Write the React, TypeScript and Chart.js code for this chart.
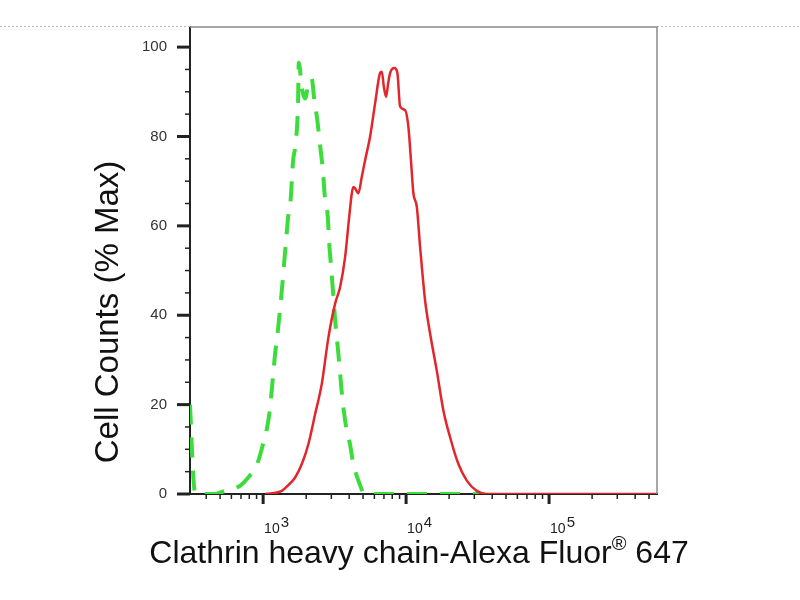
import { useEffect, useRef } from 'react';
import { Chart, registerables } from 'chart.js';

Chart.register(...registerables);

// isotype control (green dashed) - fluorescence intensity / % of max
const isotypeIntensity = [
  308, 314, 322, 335, 460, 520, 604, 700, 773, 908, 984, 1067, 1119, 1170, 1213, 1253, 1310, 1358,
  1402, 1450, 1496, 1545, 1622, 1675, 1757, 1775, 1874, 1966, 2064, 2185, 2283, 2376, 2505, 2630,
  2694, 2833, 2900, 2990, 3103, 3188, 3346, 3455, 3567, 3805, 4058, 4260, 4640, 5168, 32500,
];
const isotypePercent = [
  20, 14, 6, 0, 0, 0.5, 1.1, 2, 3.4, 6.7, 10.4, 14.9, 19.4, 26, 31.4, 35, 41, 46.3,
  51.6, 57, 62, 64.3, 74.7, 77.7, 88.2, 96.5, 90.5, 88.5, 91.5, 93, 88, 84.4, 78, 71.7,
  67, 62, 56, 50.8, 44, 39, 32, 27, 22, 15, 11, 7, 3, 0, 0,
];

// Clathrin heavy chain stained sample (red)
const sampleIntensity = [
  1032, 1352, 1500, 1675, 1880, 2074, 2311, 2574, 2864, 3188, 3455, 3744, 4000, 4173, 4280, 4400,
  4638, 4900, 5168, 5601, 6071, 6579, 6761, 7000, 7246, 7500, 7729, 8284, 8694, 9078, 9840, 10375,
  10800, 11246, 11880, 12530, 13580, 14720, 16390, 18230, 20310, 23220, 26580, 31220, 36670, 568800,
];
const samplePercent = [
  0, 0.7, 2, 3.7, 7, 11.2, 17.9, 24.7, 35.1, 42.6, 46.3, 53, 62, 67.3, 68.7, 68.4,
  67.3, 71, 74.7, 80, 87.4, 94.2, 94.5, 91, 88.9, 92, 94.2, 95.3, 94.2, 86.7, 85.9, 82.2,
  75, 67.3, 64.3, 55.3, 43.3, 35.9, 27.6, 18.7, 12.7, 6.7, 3, 0.7, 0, 0,
];

const decadeTicks = [1e3, 1e4, 1e5];
const yMajorTicks = [0, 20, 40, 60, 80, 100];
const xTitleMain = 'Clathrin heavy chain-Alexa Fluor';
const xTitleMark = '®';
const xTitleEnd = ' 647';
const yTitle = 'Cell Counts (% Max)';

const X_MIN = 308;
const X_MAX = 568800;
const Y_MAX = 104.5;
const FONT = '"Liberation Sans", Arial, sans-serif';
const NARROW = '"Liberation Sans Narrow", "Liberation Sans", Arial, sans-serif';

// tick marks, superscript labels, titles and the frame
const decorPlugin = {
  id: 'flowDecor',
  afterDraw(chart: any) {
    const { ctx, chartArea } = chart;
    const { left, right, top, bottom } = chartArea;
    const xs = chart.scales.x;
    const ys = chart.scales.y;
    ctx.save();

    // dotted separator on both sides of the frame
    ctx.strokeStyle = '#b8b8b8';
    ctx.lineWidth = 1;
    ctx.setLineDash([2, 2]);
    ctx.beginPath();
    ctx.moveTo(0, top - 0.5);
    ctx.lineTo(left, top - 0.5);
    ctx.moveTo(right, top - 0.5);
    ctx.lineTo(chart.width, top - 0.5);
    ctx.stroke();
    ctx.setLineDash([]);

    // top + right frame
    ctx.strokeStyle = '#8a8a8a';
    ctx.lineWidth = 1.5;
    ctx.beginPath();
    ctx.moveTo(left, top);
    ctx.lineTo(right, top);
    ctx.lineTo(right, bottom);
    ctx.stroke();

    // y tick marks
    ctx.strokeStyle = '#222';
    ys.ticks.forEach((t: any) => {
      const y = ys.getPixelForValue(t.value);
      const major = yMajorTicks.includes(t.value);
      ctx.lineWidth = major ? 3 : 1.5;
      ctx.beginPath();
      ctx.moveTo(left - (major ? 13 : 5), y);
      ctx.lineTo(left, y);
      ctx.stroke();
    });

    // x tick marks
    xs.ticks.forEach((t: any) => {
      const x = xs.getPixelForValue(t.value);
      const major = decadeTicks.includes(t.value);
      ctx.lineWidth = major ? 3 : 1.5;
      ctx.beginPath();
      ctx.moveTo(x, bottom);
      ctx.lineTo(x, bottom + (major ? 10 : 5));
      ctx.stroke();
    });

    // x decade labels: 10 with superscript exponent
    ctx.fillStyle = '#222';
    ctx.textBaseline = 'alphabetic';
    ctx.textAlign = 'left';
    decadeTicks.forEach((d) => {
      const x = xs.getPixelForValue(d);
      ctx.font = `14px ${NARROW}`;
      ctx.fillText('10', x + 1, 533);
      const w = ctx.measureText('10').width;
      ctx.font = `15px ${NARROW}`;
      ctx.fillText(String(Math.round(Math.log10(d))), x + 2 + w, 527);
    });

    // x title with registered mark
    ctx.fillStyle = '#111';
    ctx.font = `32px ${FONT}`;
    const w1 = ctx.measureText(xTitleMain).width;
    const w3 = ctx.measureText(xTitleEnd).width;
    ctx.font = `20px ${FONT}`;
    const w2 = ctx.measureText(xTitleMark).width;
    let tx = 419 - (w1 + w2 + w3) / 2;
    ctx.font = `32px ${FONT}`;
    ctx.fillText(xTitleMain, tx, 563);
    tx += w1;
    ctx.font = `20px ${FONT}`;
    ctx.fillText(xTitleMark, tx, 550);
    tx += w2;
    ctx.font = `32px ${FONT}`;
    ctx.fillText(xTitleEnd, tx, 563);

    // y title
    ctx.font = `33px ${FONT}`;
    ctx.translate(118, 312);
    ctx.rotate(-Math.PI / 2);
    ctx.textAlign = 'center';
    ctx.fillText(yTitle, 0, 0);
    ctx.restore();
  },
};

const App = () => {
  const chartRef = useRef<HTMLCanvasElement>(null);
  const chartInstance = useRef<Chart | null>(null);

  useEffect(() => {
    if (!chartRef.current) return;
    if (chartInstance.current) chartInstance.current.destroy();
    const ctx = chartRef.current.getContext('2d');
    if (!ctx) return;

    chartInstance.current = new Chart(ctx, {
      type: 'line',
      data: {
        datasets: [
          {
            label: 'Clathrin heavy chain',
            data: sampleIntensity.map((x, i) => ({ x, y: samplePercent[i] })),
            borderColor: '#e2262c',
            borderWidth: 2.5,
            pointRadius: 0,
            cubicInterpolationMode: 'monotone',
            fill: false,
          },
          {
            label: 'Isotype control',
            data: isotypeIntensity.map((x, i) => ({ x, y: isotypePercent[i] })),
            borderColor: '#3ddc3d',
            borderWidth: 4,
            borderDash: [20, 13],
            pointRadius: 0,
            cubicInterpolationMode: 'monotone',
            fill: false,
          },
        ],
      },
      options: {
        responsive: false,
        animation: false,
        layout: { padding: { top: 27, right: 143, left: 0, bottom: 0 } },
        plugins: {
          legend: { display: false },
          tooltip: { enabled: false },
        },
        scales: {
          x: {
            type: 'logarithmic',
            min: X_MIN,
            max: X_MAX,
            afterBuildTicks: (scale: any) => {
              const ticks: { value: number }[] = [];
              [100, 1000, 10000, 100000].forEach((d) => {
                for (let m = 1; m <= 9; m++) {
                  const v = m * d;
                  if (v >= X_MIN && v <= X_MAX) ticks.push({ value: v });
                }
              });
              scale.ticks = ticks;
            },
            afterFit: (scale: any) => {
              scale.height = 106;
            },
            ticks: { display: false },
            grid: { display: false },
            border: { display: true, color: '#222', width: 2 },
          },
          y: {
            type: 'linear',
            min: 0,
            max: Y_MAX,
            afterFit: (scale: any) => {
              scale.width = 190;
            },
            ticks: {
              stepSize: 5,
              includeBounds: false,
              autoSkip: false,
              padding: 10,
              color: '#333',
              font: { size: 15, family: FONT },
              callback: (v: any) => (yMajorTicks.includes(v) ? String(v) : ''),
            },
            grid: { display: true, drawOnChartArea: false, drawTicks: true, tickLength: 13, tickColor: 'rgba(0,0,0,0)' },
            border: { display: true, color: '#222', width: 2 },
          },
        },
      },
      plugins: [decorPlugin],
    });

    return () => {
      if (chartInstance.current) {
        chartInstance.current.destroy();
        chartInstance.current = null;
      }
    };
  }, []);

  return (
    <div style={{ position: 'fixed', left: 0, top: 0, width: 800, height: 600, background: '#fff' }}>
      <canvas ref={chartRef} width={800} height={600} style={{ width: 800, height: 600 }} />
    </div>
  );
};

export default App;
